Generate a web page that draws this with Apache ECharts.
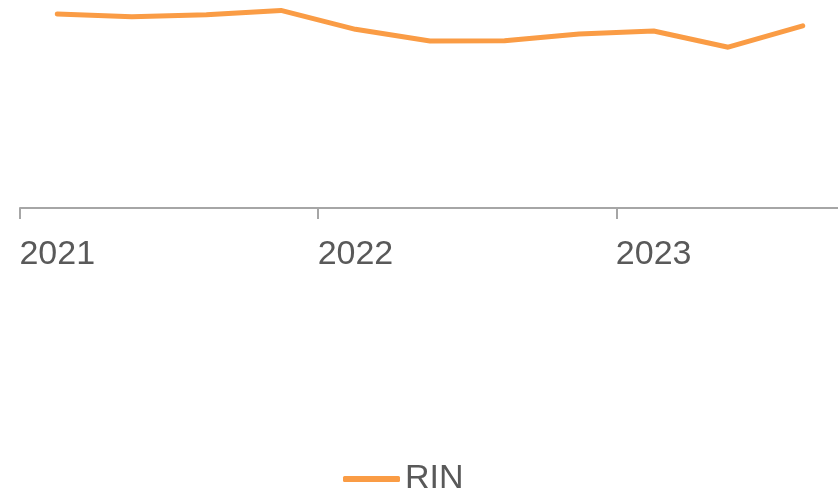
<!DOCTYPE html>
<html>
<head>
<meta charset="utf-8">
<script src="https://cdn.jsdelivr.net/npm/echarts@6/dist/echarts.min.js"></script>
<style>
  html, body { margin: 0; padding: 0; background: #fff; }
  #chart { width: 838px; height: 494px; }
</style>
</head>
<body>
<div id="chart"></div>
<script>
// quarters, Q1 2021 .. Q3 2023
var quarters = ['2021', '2021 Q2', '2021 Q3', '2021 Q4',
                '2022', '2022 Q2', '2022 Q3', '2022 Q4',
                '2023', '2023 Q2', '2023 Q3'];
// RIN
var rin = [93.3, 92.0, 92.9, 95.0, 85.9, 80.3, 80.4, 83.7, 85.1, 77.3, 87.6];

var font = '"Liberation Sans", Arial, sans-serif';
var orange = '#fa9c45';

var myChart = echarts.init(document.getElementById('chart'));
myChart.setOption({
  animation: false,
  grid: {
    left: 20,
    width: 820,
    top: 0,
    height: 208,
    containLabel: false,
    outerBoundsMode: 'none'
  },
  legend: {
    data: [{ name: 'RIN', icon: 'roundRect' }],
    top: 457,
    left: 338,
    itemWidth: 57,
    itemHeight: 6,
    itemGap: 5,
    itemStyle: { color: orange },
    textStyle: { fontFamily: font, fontSize: 34, color: '#595959' }
  },
  xAxis: {
    type: 'category',
    data: quarters,
    boundaryGap: true,
    axisLine: { lineStyle: { color: '#a6a6a6', width: 2 } },
    axisTick: {
      show: true,
      interval: 3,
      length: 11,
      lineStyle: { color: '#a6a6a6', width: 2 }
    },
    axisLabel: {
      interval: 3,
      margin: 30,
      fontFamily: font,
      fontSize: 34,
      color: '#595959',
      formatter: function (v) { return v.slice(0, 4); }
    }
  },
  yAxis: {
    type: 'value',
    min: 0,
    max: 100,
    show: false
  },
  series: [{
    name: 'RIN',
    type: 'line',
    data: rin,
    symbol: 'none',
    lineStyle: { color: orange, width: 5, cap: 'round' },
    itemStyle: { color: orange }
  }]
});
</script>
</body>
</html>
